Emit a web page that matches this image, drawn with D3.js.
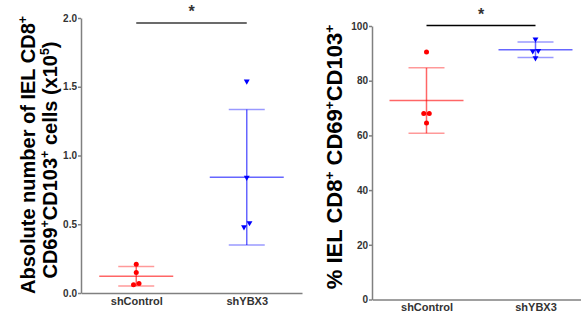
<!DOCTYPE html>
<html>
<head>
<meta charset="utf-8">
<script src="https://cdn.jsdelivr.net/npm/d3@7"></script>
<style>
  body { margin: 0; background: #fff; }
  svg { display: block; font-family: "Liberation Sans", Arial, sans-serif; }
  .tick text { fill: #333; font-weight: bold; }
</style>
</head>
<body>
<svg id="chart" width="581" height="320"></svg>
<script>
const categories = ['shControl', 'shYBX3'];

// panel A: absolute number (x10^5)
const absControl = [0.21, 0.15, 0.06, 0.07];
const absYBX3 = [1.54, 0.84, 0.51, 0.48];
const absTicks = [0, 0.5, 1.0, 1.5, 2.0];

// panel B: percentage
const pctControl = [90.5, 68, 68, 64.5];
const pctYBX3 = [95.2, 91, 90.8, 88.3];
const pctTicks = [0, 20, 40, 60, 80, 100];

const colors = { shControl: '#ff0000', shYBX3: '#0000ff' };

const svg = d3.select('#chart');

function drawPanel(opts) {
  const { groups, xRange, yRange, yDomain, ticks, fmt, sig } = opts;

  const x = d3.scalePoint().domain(categories).range(xRange).padding(0.5);
  const y = d3.scaleLinear().domain(yDomain).range(yRange);

  const g = svg.append('g');

  // axes
  const yAxis = g.append('g')
    .attr('transform', `translate(${xRange[0]},0)`)
    .call(d3.axisLeft(y).tickValues(ticks).tickFormat(d3.format(fmt)).tickSize(3).tickSizeOuter(0).tickPadding(1));
  yAxis.selectAll('text').attr('font-size', 10);

  const xAxis = g.append('g')
    .attr('transform', `translate(0,${yRange[0]})`)
    .call(d3.axisBottom(x).tickSize(0).tickPadding(4));
  xAxis.selectAll('text').attr('font-size', 11);

  g.selectAll('.domain, .tick line')
    .attr('stroke', '#808080')
    .attr('stroke-width', 1.5);

  // mean +/- SD with points
  groups.forEach(([cat, values]) => {
    const cx = x(cat);
    const mean = d3.mean(values);
    const sd = d3.deviation(values);
    const col = colors[cat];

    const bars = g.append('g').attr('stroke', col).attr('stroke-width', 1.5);
    bars.append('line')
      .attr('x1', cx).attr('x2', cx)
      .attr('y1', y(mean + sd)).attr('y2', y(mean - sd))
      .attr('stroke-opacity', 0.6);
    [mean + sd, mean - sd].forEach((v) => {
      bars.append('line')
        .attr('x1', cx - 18).attr('x2', cx + 18)
        .attr('y1', y(v)).attr('y2', y(v))
        .attr('stroke-opacity', 0.4);
    });
    bars.append('line')
      .attr('x1', cx - 37).attr('x2', cx + 37)
      .attr('y1', y(mean)).attr('y2', y(mean))
      .attr('stroke-opacity', 0.6);

    // spread points that would overlap
    const pts = values.map((v) => ({ v, py: y(v), dx: 0 })).sort((a, b) => a.v - b.v);
    let cluster = [pts[0]];
    const flush = () => {
      cluster.forEach((p, i) => { p.dx = (i - (cluster.length - 1) / 2) * 5.5; });
    };
    for (let i = 1; i < pts.length; i++) {
      if (Math.abs(pts[i].py - pts[i - 1].py) < 5) {
        cluster.push(pts[i]);
      } else {
        flush();
        cluster = [pts[i]];
      }
    }
    flush();

    if (cat === 'shControl') {
      g.selectAll(null).data(pts).join('circle')
        .attr('cx', (d) => cx + d.dx)
        .attr('cy', (d) => d.py)
        .attr('r', 2.5)
        .attr('fill', col);
    } else {
      const tri = d3.symbol().type(d3.symbolTriangle).size(15);
      g.selectAll(null).data(pts).join('path')
        .attr('d', tri)
        .attr('transform', (d) => `translate(${cx + d.dx},${d.py}) rotate(180)`)
        .attr('fill', col);
    }
  });

  // significance bar
  g.append('line')
    .attr('x1', x(categories[0])).attr('x2', x(categories[1]))
    .attr('y1', sig.y).attr('y2', sig.y)
    .attr('stroke', sig.color)
    .attr('stroke-width', sig.width);
  g.append('text')
    .attr('x', (x(categories[0]) + x(categories[1])) / 2)
    .attr('y', sig.y - 6)
    .attr('text-anchor', 'middle')
    .attr('font-size', 16)
    .attr('font-weight', 'bold')
    .attr('fill', '#333')
    .text('*');

  return g;
}

drawPanel({
  groups: [['shControl', absControl], ['shYBX3', absYBX3]],
  xRange: [81, 302],
  yRange: [293, 18],
  yDomain: [0, 2],
  ticks: absTicks,
  fmt: '.1f',
  sig: { y: 23, color: '#6b6b6b', width: 2.2 }
});

drawPanel({
  groups: [['shControl', pctControl], ['shYBX3', pctYBX3]],
  xRange: [372, 590],
  yRange: [299.5, 26],
  yDomain: [0, 100],
  ticks: pctTicks,
  fmt: 'd',
  sig: { y: 25.5, color: '#000', width: 1.5 }
});

// y axis titles with superscripts
function title(xPos, yPos, size, parts) {
  const t = svg.append('text')
    .attr('transform', `translate(${xPos},${yPos}) rotate(-90)`)
    .attr('text-anchor', 'middle')
    .attr('font-size', size)
    .attr('font-weight', 'bold')
    .attr('fill', '#000');
  const rise = size * 0.38;
  let raised = false;
  parts.forEach(([txt, sup]) => {
    const span = t.append('tspan').text(txt);
    if (sup && !raised) {
      span.attr('dy', -rise);
      raised = true;
    } else if (!sup && raised) {
      span.attr('dy', rise);
      raised = false;
    }
    if (sup) span.attr('font-size', size * 0.62);
  });
}

title(35, 155, 20, [['Absolute number of IEL CD8'], ['+', true]]);
title(57, 160, 20, [['CD69'], ['+', true], ['CD103'], ['+', true], [' cells (x10'], ['5', true], [')']]);
title(342, 157, 22, [['% IEL CD8'], ['+', true], [' CD69'], ['+', true], ['CD103'], ['+', true]]);
</script>
</body>
</html>
